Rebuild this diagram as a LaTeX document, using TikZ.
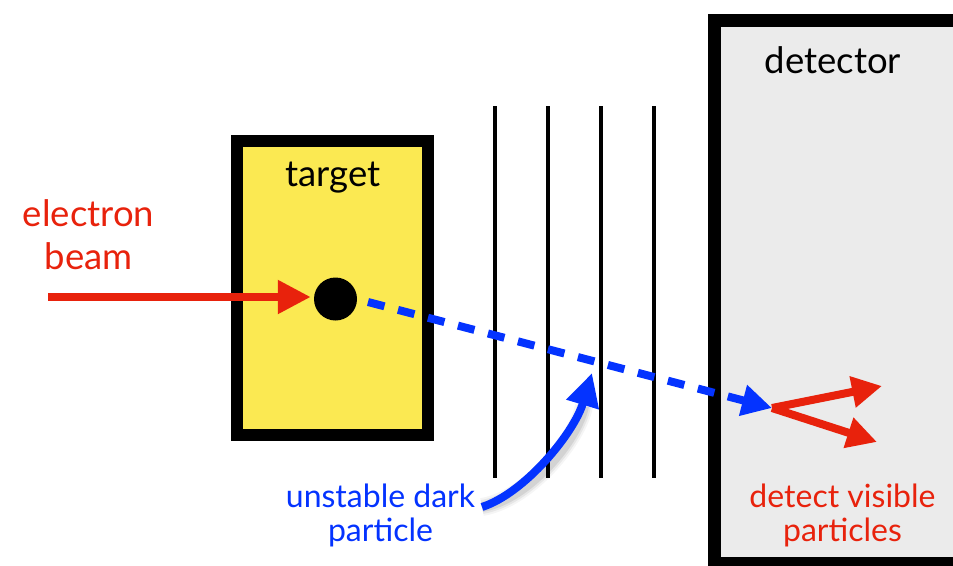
\documentclass[tikz,border=0pt]{standalone}
\usepackage{fontspec}
\setmainfont{Lato}
\usetikzlibrary{arrows.meta}
\definecolor{kred}{HTML}{E8220C}
\definecolor{kblue}{HTML}{0433FF}
\definecolor{kyellow}{HTML}{FBE952}
\definecolor{kgray}{HTML}{EBEBEB}
\begin{document}
\begin{tikzpicture}[x=1pt,y=-1pt,
  biglbl/.style={font=\fontsize{36.5}{43}\selectfont, align=center, inner sep=0},
  lbl/.style={font=\fontsize{32}{34}\selectfont, align=center, inner sep=0},
  boxline/.style={draw=black, line width=12.5pt, inner sep=0},
  bigtip/.style={-{Triangle[length=33pt,width=32pt]}},
  smalltip/.style={-{Triangle[length=30pt,width=30pt]}},
  thick8/.style={line width=8pt},
  wire/.style={line width=4pt, black},
]
\clip (0,0) rectangle (953,565);
\fill[white] (0,0) rectangle (953,565);

% detector
\node[boxline, fill=kgray, minimum width=276pt, minimum height=542.5pt] (det) at (852.5,291.75) {};
\node[biglbl, anchor=base, text=black] (dettext) at (833,73) {detector};

% target
\node[boxline, fill=kyellow, minimum width=191pt, minimum height=294pt] (target) at (332.5,288) {};
\node[biglbl, anchor=base, text=black] (targettext) at (333,186) {target};

% dot
\node[circle, fill=black, minimum size=43pt, inner sep=0] (dot) at (335.5,299) {};

% wires
\foreach \x [count=\i] in {495,548,601,654} {
  \coordinate (wt\i) at (\x,106);
  \coordinate (wb\i) at (\x,478);
  \draw[wire] (wt\i) -- (wb\i);
}

% electron beam
\node[biglbl, text=kred, anchor=south] (beamlabel) at (88.5,270) {electron\\beam};
\coordinate (beamstart) at (48,297);
\draw[kred, thick8, bigtip, shorten >=3pt] (beamstart) -- (beamstart -| dot.west);

% dark particle path
\coordinate (dstart) at (368,302);
\coordinate (dtip) at (772,408);
\draw[kblue, thick8, dash pattern=on 17pt off 14pt, smalltip] (dstart) -- (dtip);

% visible particles
\coordinate (vis1) at (882,386);
\coordinate (vis2) at (877,442);
\draw[kred, thick8, smalltip] (dtip) -- (vis1);
\draw[kred, thick8, smalltip] (dtip) -- (vis2);

% labels
\node[lbl, text=kblue, anchor=south] (darklabel) at (380.5,547) {unstable dark\\particle};
\node[lbl, text=kred, anchor=south] (vislabel) at (842.5,547) {detect visible\\particles};

% curved pointer with shadow
\coordinate (pstart) at (482,507);
\coordinate (ptip) at (592,373);
\begin{scope}[shift={(4,6)}]
  \foreach \w/\o in {18/0.04,14/0.06,10/0.08} {
    \draw[black, opacity=\o, line width=\w pt] (pstart) .. controls (525,493) and (574,433) .. (580,400);
  }
\end{scope}
\draw[kblue, thick8, bigtip] (pstart) .. controls (525,493) and (574,433) .. (ptip);
\end{tikzpicture}
\end{document}
